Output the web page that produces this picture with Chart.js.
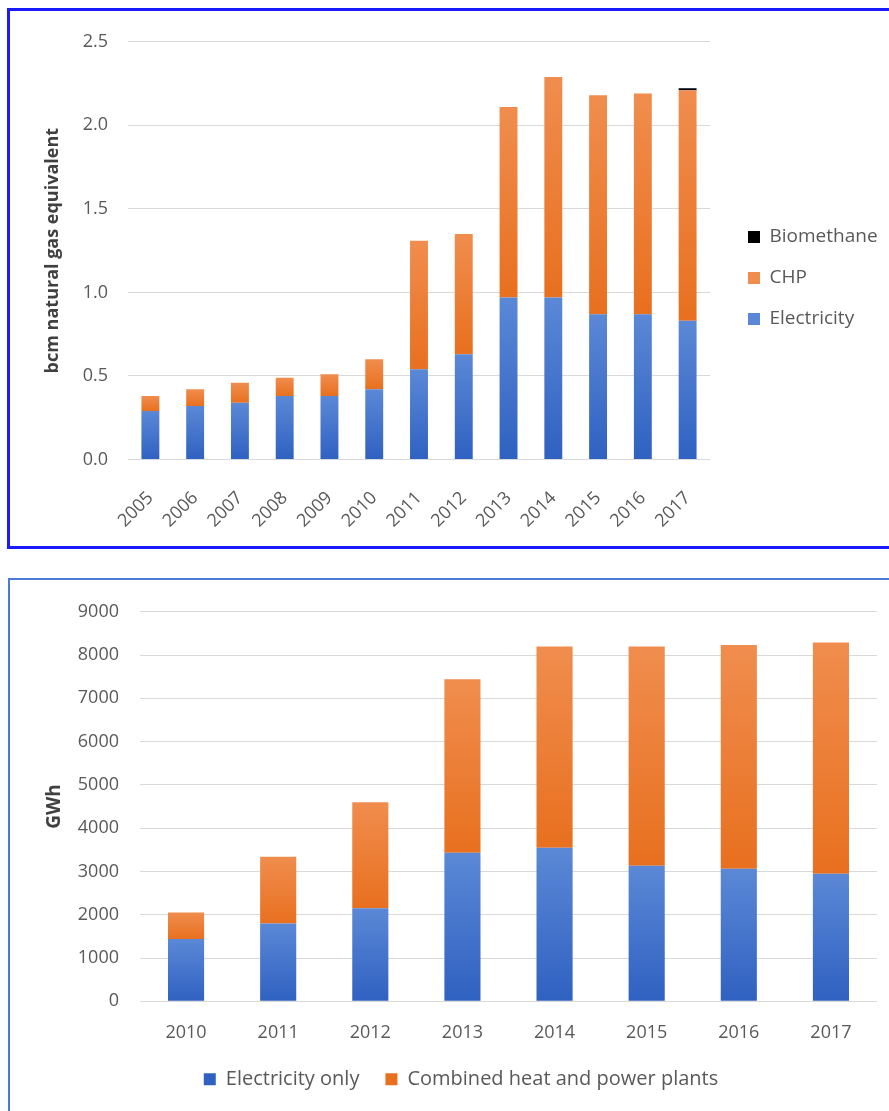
<!DOCTYPE html>
<html>
<head>
<meta charset="utf-8">
<script src="https://cdn.jsdelivr.net/npm/chart.js@4.4.0/dist/chart.umd.min.js"></script>
<style>
  html, body { margin: 0; padding: 0; background: #fff; overflow: hidden; }
  #top-box { position: absolute; left: 7px; top: 8px; width: 900px; height: 535px; border: 3px solid #1a1aff; border-right: none; }
  #bottom-box { position: absolute; left: 8px; top: 578px; width: 910px; height: 560px; border: 2px solid #4a7bd6; border-right: none; }
  canvas { display: block; }
</style>
</head>
<body>
<div id="top-box"><canvas id="gas-chart" width="879" height="535"></canvas></div>
<div id="bottom-box"><canvas id="gwh-chart" width="902" height="530"></canvas></div>
<script>
// top chart: bcm natural gas equivalent
const gasYears = ["2005", "2006", "2007", "2008", "2009", "2010", "2011", "2012", "2013", "2014", "2015", "2016", "2017"];
const electricity = [0.29, 0.32, 0.34, 0.38, 0.38, 0.42, 0.54, 0.63, 0.97, 0.97, 0.87, 0.87, 0.83];
const chp = [0.09, 0.10, 0.12, 0.11, 0.13, 0.18, 0.77, 0.72, 1.14, 1.32, 1.31, 1.32, 1.38];
const biomethane = [0, 0, 0, 0, 0, 0, 0, 0, 0, 0, 0, 0, 0.012];

// bottom chart: GWh
const gwhYears = ["2010", "2011", "2012", "2013", "2014", "2015", "2016", "2017"];
const electricityOnly = [1440, 1800, 2150, 3430, 3550, 3130, 3060, 2950];
const chpPlants = [610, 1540, 2450, 4010, 4650, 5070, 5170, 5340];

const FONT = '"Open Sans", sans-serif';
const TICK_COLOR = "#595959";
const GRID_COLOR = "#d9d9d9";

// vertical gradient per stacked segment, lighter on top
function gradientFill(light, dark, mid) {
  return (c) => {
    const chart = c.chart;
    const y = chart.scales.y;
    if (c.type !== "data" || !y || !chart.chartArea) return mid;
    const sets = chart.data.datasets;
    let base = 0;
    for (let i = 0; i < c.datasetIndex; i++) base += sets[i].data[c.dataIndex] || 0;
    const top = y.getPixelForValue(base + c.raw);
    const bottom = y.getPixelForValue(base);
    if (!(bottom - top > 0)) return mid;
    const g = chart.ctx.createLinearGradient(0, top, 0, bottom);
    g.addColorStop(0, light);
    g.addColorStop(1, dark);
    return g;
  };
}

const blueFill = gradientFill("#5b88d6", "#2f61c1", "#4472c4");
const orangeFill = gradientFill("#f08d4e", "#e8701f", "#ed7d31");

// empty axis used only to reserve space
function spacer(position, size) {
  return {
    type: "linear",
    position: position,
    grid: { display: false },
    border: { display: false },
    ticks: { display: false },
    afterFit: (s) => {
      if (position === "top" || position === "bottom") s.height = size;
      else s.width = size;
    }
  };
}

// legend on the right: work out how much room the text needs
const measure = document.createElement("canvas").getContext("2d");
measure.font = "19px " + FONT;
const legendTextW = measure.measureText("Biomethane").width;
// legend width = padding + box + fontSize/2 + text + 10, left edge wanted at 716
const topPadRight = Math.max(0, 879 - 716 - (22 + 12 + 9.5 + legendTextW + 10));

new Chart(document.getElementById("gas-chart"), {
  type: "bar",
  data: {
    labels: gasYears,
    datasets: [
      { label: "Electricity", data: electricity, backgroundColor: blueFill },
      { label: "CHP", data: chp, backgroundColor: orangeFill },
      { label: "Biomethane", data: biomethane, backgroundColor: "#000000" }
    ]
  },
  options: {
    responsive: false,
    animation: false,
    layout: { padding: { top: 0, bottom: 1, left: 0, right: topPadRight } },
    datasets: { bar: { barPercentage: 0.5, categoryPercentage: 0.8 } },
    plugins: {
      legend: {
        position: "right",
        reverse: true,
        maxWidth: 300,
        labels: { boxWidth: 12, boxHeight: 12, padding: 22, color: TICK_COLOR, font: { family: FONT, size: 19 } }
      },
      tooltip: { enabled: false }
    },
    scales: {
      x: {
        stacked: true,
        grid: { display: false },
        border: { display: false },
        ticks: { color: TICK_COLOR, font: { family: FONT, size: 18 }, minRotation: 45, maxRotation: 45, autoSkip: false, padding: 20 },
        afterFit: (s) => { s.height = 85.5; }
      },
      y: {
        stacked: true,
        min: 0,
        max: 2.5,
        ticks: { stepSize: 0.5, callback: (v) => v.toFixed(1), padding: 20, color: TICK_COLOR, font: { family: FONT, size: 18 } },
        grid: { color: GRID_COLOR, drawTicks: false },
        border: { display: false },
        title: { display: true, text: "bcm natural gas equivalent", color: "#404040", font: { family: FONT, size: 18, weight: "bold" }, padding: { top: 32, bottom: 0 } },
        afterFit: (s) => { s.width = 118; }
      },
      headroom: spacer("top", 27.5),
      gap: spacer("right", 16)
    }
  }
});

new Chart(document.getElementById("gwh-chart"), {
  type: "bar",
  data: {
    labels: gwhYears,
    datasets: [
      { label: "Electricity only", data: electricityOnly, backgroundColor: blueFill },
      { label: "Combined heat and power plants", data: chpPlants, backgroundColor: orangeFill }
    ]
  },
  options: {
    responsive: false,
    animation: false,
    layout: { padding: { top: 27.3, bottom: 10.7, left: 0, right: 0 } },
    datasets: { bar: { barPercentage: 0.49, categoryPercentage: 0.8 } },
    plugins: {
      legend: {
        position: "bottom",
        labels: { boxWidth: 12, boxHeight: 12, padding: 26, color: TICK_COLOR, font: { family: FONT, size: 20 } }
      },
      tooltip: { enabled: false }
    },
    scales: {
      x: {
        stacked: true,
        grid: { display: false },
        border: { display: false },
        ticks: { color: TICK_COLOR, font: { family: FONT, size: 18 }, padding: 12.5 },
        afterFit: (s) => { s.height = 42; }
      },
      y: {
        stacked: true,
        min: 0,
        max: 9000,
        ticks: { stepSize: 1000, callback: (v) => String(v), padding: 21, color: TICK_COLOR, font: { family: FONT, size: 18 } },
        grid: { color: GRID_COLOR, drawTicks: false },
        border: { display: false },
        title: { display: true, text: "GWh", color: "#404040", font: { family: FONT, size: 19, weight: "bold" }, padding: { top: 33.6, bottom: 0 } },
        afterFit: (s) => { s.width = 130; }
      },
      gap: spacer("right", 35)
    }
  }
});
</script>
</body>
</html>
